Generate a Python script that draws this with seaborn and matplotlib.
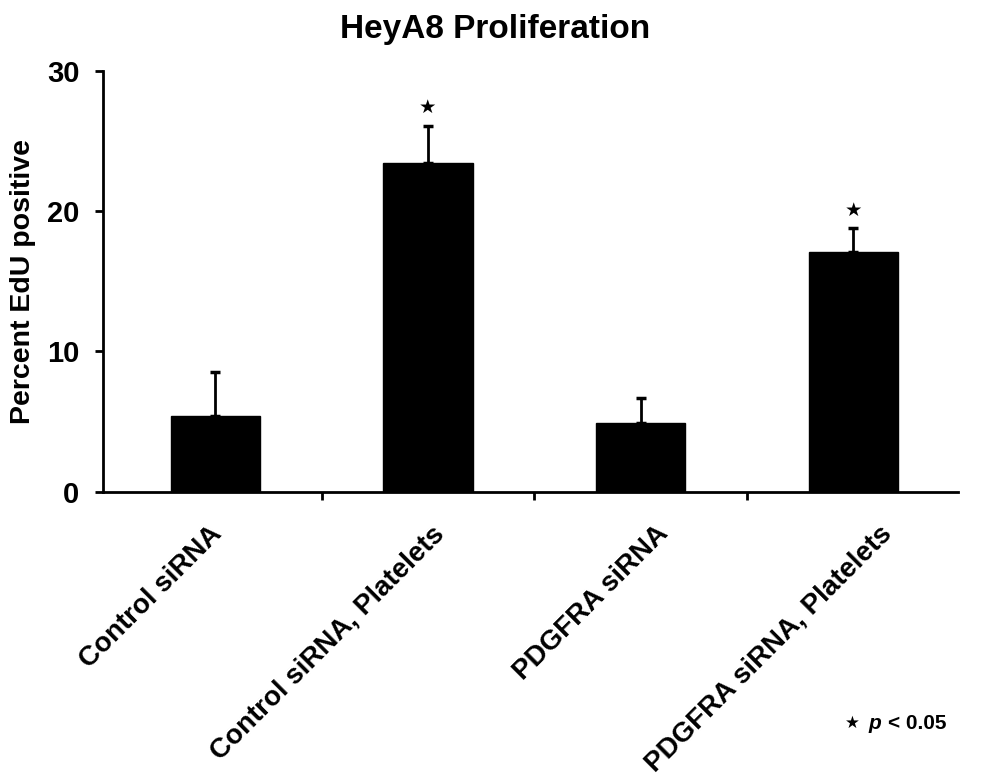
import numpy as np
import pandas as pd
import matplotlib
matplotlib.use("Agg")
import matplotlib.pyplot as plt
import matplotlib.transforms as mtrans
import seaborn as sns

# ── data ─────────────────────────────────────────────────────────────────────
groups = ["Control siRNA", "Control siRNA, Platelets",
          "PDGFRA siRNA", "PDGFRA siRNA, Platelets"]
edu_pct = [5.4, 23.4, 4.9, 17.1]      # percent EdU positive
edu_err = [3.1, 2.65, 1.8, 1.65]      # upper error only
signif  = [False, True, False, True]  # p < 0.05

TITLE  = "HeyA8 Proliferation"
YLABEL = "Percent EdU positive"
YTICKS = [0, 10, 20, 30]

# small horizontal nudges (pixels) so rotated labels sit like the original
LABEL_NUDGE = [-6, 3, 15, 25]

# ── style ────────────────────────────────────────────────────────────────────
sns.set_style("ticks")
plt.rcParams["font.family"] = ["Liberation Sans", "DejaVu Sans"]
plt.rcParams["font.weight"] = "bold"
plt.rcParams["text.color"] = "black"
plt.rcParams["axes.labelcolor"] = "black"
plt.rcParams["xtick.color"] = "black"
plt.rcParams["ytick.color"] = "black"

df = pd.DataFrame({"group": groups, "value": edu_pct})

fig = plt.figure(figsize=(9.9, 7.8), dpi=100)
ax = fig.add_axes([0.104, 0.3696, 0.864, 0.540])

# ── bars + error bars ────────────────────────────────────────────────────────
sns.barplot(data=df, x="group", y="value", color="black", width=0.42,
            saturation=1, errorbar=None, ax=ax, edgecolor="black")
xs = np.arange(len(groups))
ax.errorbar(xs, edu_pct, yerr=[np.zeros(len(groups)), edu_err], fmt="none",
            ecolor="black", elinewidth=2, capsize=3.5, capthick=2.5)

# significance stars
for x, v, e, s in zip(xs, edu_pct, edu_err, signif):
    if s:
        ax.text(x, v + e + 1.3, "★", ha="center", va="center",
                fontsize=14, family="DejaVu Sans", color="black")

# ── axes ─────────────────────────────────────────────────────────────────────
ax.set_ylim(0, 30)
ax.set_xlim(-0.528, len(groups) - 0.506)
ax.set_yticks(YTICKS)
ax.set_yticklabels([str(t) for t in YTICKS], fontsize=21, fontweight="bold")
ax.set_xticks(xs)
ax.set_xticklabels(groups, rotation=45, ha="right", rotation_mode="anchor",
                   fontsize=20, fontweight="bold")
ax.set_xticks(np.arange(0.5, len(groups) - 1), minor=True)
ax.tick_params(axis="x", which="major", length=0, pad=21)
ax.tick_params(axis="x", which="minor", length=6, width=2, direction="out")
ax.tick_params(axis="y", length=6, width=2, direction="out", pad=11)
for lab, dx in zip(ax.get_xticklabels(), LABEL_NUDGE):
    lab.set_transform(lab.get_transform() +
                      mtrans.ScaledTranslation(dx / 100, 0, fig.dpi_scale_trans))
ax.set_xlabel("")
ax.set_ylabel(YLABEL, fontsize=20.5, fontweight="bold")
ax.yaxis.set_label_coords(-0.078, 0.5)
for sp in ["top", "right"]:
    ax.spines[sp].set_visible(False)
for sp in ["left", "bottom"]:
    ax.spines[sp].set_linewidth(2)
    ax.spines[sp].set_color("black")

fig.suptitle(TITLE, fontsize=24, fontweight="bold", x=0.5, y=0.982, va="top")

# ── p-value note ─────────────────────────────────────────────────────────────
fig.text(0.853, 0.073, "★", fontsize=12, family="DejaVu Sans", va="center")
fig.text(0.877, 0.072, "p", fontsize=15, fontweight="bold", style="italic",
         va="center")
fig.text(0.897, 0.072, "< 0.05", fontsize=15, fontweight="bold", va="center")

plt.savefig("out.png", dpi=100)
plt.close()
